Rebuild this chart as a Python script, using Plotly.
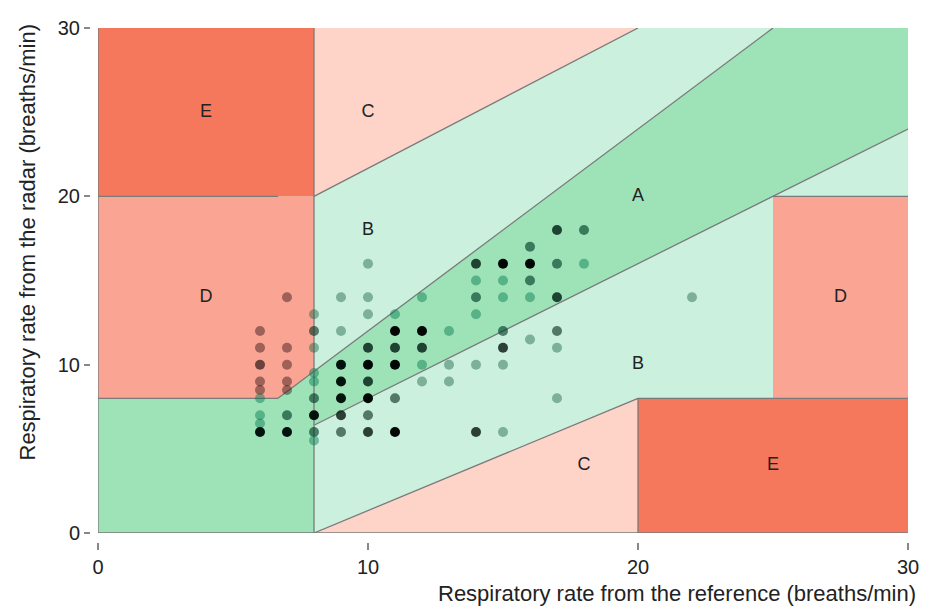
import plotly.graph_objects as go

# ---------------- data ----------------
# respiratory rate from reference (x), from radar (y), and number of overlapping samples at that point
ref_rr = ([6] * 9 + [7] * 7 + [8] * 9 + [9] * 7 + [10] * 9 + [11] * 6 + [12] * 5 + [13] * 3
          + [14] * 6 + [15] * 7 + [16] * 5 + [17] * 6 + [18] * 2 + [22])
radar_rr = ([12, 11, 10, 9, 8.5, 8, 7, 6.5, 6]
            + [14, 11, 10, 9, 8.5, 7, 6]
            + [13, 12, 11, 9.5, 9, 8, 7, 6, 5.5]
            + [14, 12, 10, 9, 8, 7, 6]
            + [16, 14, 13, 11, 10, 9, 8, 7, 6]
            + [13, 12, 11, 10, 8, 6]
            + [14, 12, 11, 10, 9]
            + [12, 10, 9]
            + [16, 15, 14, 13, 10, 6]
            + [16, 15, 14, 12, 11, 10, 6]
            + [17, 16, 15, 14, 11.5]
            + [18, 16, 14, 12, 11, 8]
            + [18, 16]
            + [14])
n_samples = ([1, 1, 2, 1, 1, 1, 1, 1, 4]
             + [1, 1, 1, 1, 1, 2, 4]
             + [1, 2, 1, 1, 1, 2, 4, 2, 1]
             + [1, 1, 4, 4, 4, 3, 2]
             + [1, 1, 1, 3, 5, 3, 5, 2, 3]
             + [1, 5, 3, 5, 2, 5]
             + [1, 5, 3, 1, 1]
             + [1, 1, 1]
             + [3, 1, 2, 1, 1, 3]
             + [5, 1, 1, 2, 3, 1, 1]
             + [2, 5, 2, 1, 1]
             + [3, 2, 3, 2, 1, 1]
             + [2, 1]
             + [1])

# error-grid zone polygons (x list, y list)
zone_B = ([0, 30, 30, 0], [0, 0, 30, 30])
zone_A = ([0, 8, 8, 30, 30, 25, 6.667, 0], [0, 0, 6.4, 24, 30, 30, 8, 8])
zone_C_top = ([8, 20, 8], [20, 30, 30])
zone_C_bottom = ([8, 20, 20], [0, 0, 8])
zone_D_left = ([0, 6.667, 8, 8, 0], [8, 8, 9.6, 20, 20])
zone_D_right = ([25, 30, 30, 25], [8, 8, 20, 20])
zone_E_left = ([0, 8, 8, 0], [20, 20, 30, 30])
zone_E_right = ([20, 30, 30, 20], [0, 0, 8, 8])

# boundary segments ((x0, x1), (y0, y1))
boundaries = [
    ((0, 0), (0, 30)), ((0, 30), (0, 0)), ((0, 6.667), (8, 8)), ((6.667, 25), (8, 30)),
    ((8, 30), (6.4, 24)), ((8, 8), (0, 30)), ((8, 20), (20, 30)), ((8, 20), (0, 8)),
    ((20, 20), (0, 8)), ((20, 30), (8, 8)), ((25, 30), (20, 20)), ((0, 6.667), (20, 20)),
]

label_text = ["E", "C", "B", "D", "A", "D", "B", "C", "E"]
label_x = [4, 10, 10, 4, 20, 27.5, 20, 18, 25]
label_y = [25, 25, 18, 14, 20, 14, 10, 4, 4]

x_ticks = [0, 10, 20, 30]
y_ticks = [0, 10, 20, 30]

# ---------------- styles ----------------
COL = {"A": "#9ee3b8", "B": "#ccf0de", "C": "#fed3c8", "D": "#faa594", "E": "#f6785c"}
PT_BASE = {"A": (0, 118, 77), "B": (27, 98, 67), "D": (45, 16, 15)}
LINE_COL = "#7a7a7a"
FONT = "Liberation Sans, Arial, sans-serif"


def zone_of(x, y):
    if (x <= 8 and y <= max(8, 1.2 * x)) or (0.8 * x <= y <= 1.2 * x):
        return "A"
    if x < 8:
        return "D"
    return "B"


def point_color(x, y, n):
    r, g, b = PT_BASE[zone_of(x, y)]
    k = 0.5 ** (n - 1)
    a = min(1.0, 0.45 + 0.18 * (n - 1))
    return f"rgba({r*k:.0f},{g*k:.0f},{b*k:.0f},{a:.2f})"


fig = go.Figure()

for poly, key in [(zone_B, "B"), (zone_A, "A"), (zone_C_top, "C"), (zone_C_bottom, "C"),
                  (zone_D_left, "D"), (zone_D_right, "D"), (zone_E_left, "E"), (zone_E_right, "E")]:
    fig.add_trace(go.Scatter(x=poly[0], y=poly[1], fill="toself", fillcolor=COL[key],
                             mode="none", hoverinfo="skip", showlegend=False))

for (xs, ys) in boundaries:
    fig.add_trace(go.Scatter(x=list(xs), y=list(ys), mode="lines",
                             line=dict(color=LINE_COL, width=1.3),
                             hoverinfo="skip", showlegend=False))

fig.add_trace(go.Scatter(
    x=ref_rr, y=radar_rr, mode="markers",
    marker=dict(size=10, color=[point_color(x, y, n) for x, y, n in zip(ref_rr, radar_rr, n_samples)],
                line=dict(width=0)),
    showlegend=False))

fig.add_trace(go.Scatter(x=label_x, y=label_y, text=label_text, mode="text",
                         textfont=dict(size=18, color="#222", family=FONT),
                         hoverinfo="skip", showlegend=False))

L, R, T, B = 90, 25, 28, 65
W, H = 933, 607
pw, ph = W - L - R, H - T - B
fig.update_layout(
    width=W, height=H, margin=dict(l=L, r=R, t=T, b=B),
    paper_bgcolor="white", plot_bgcolor="white",
    font=dict(family=FONT, size=20, color="#222"),
    xaxis=dict(range=[0, 30], domain=[8 / pw, 1], anchor="free", position=0,
               tickvals=x_ticks, ticks="outside", ticklen=7, tickwidth=2, tickcolor="#888",
               tickfont=dict(size=20),
               showgrid=False, zeroline=False, showline=False, fixedrange=True),
    yaxis=dict(range=[0, 30], domain=[9 / ph, 1], anchor="free", position=0,
               tickvals=y_ticks, ticks="outside", ticklen=6, tickwidth=2, tickcolor="#888",
               tickfont=dict(size=20),
               showgrid=False, zeroline=False, showline=False, fixedrange=True),
    annotations=[
        dict(text="Respiratory rate from the reference (breaths/min)", xref="paper", yref="paper",
             x=(918 - L) / pw, y=-(593 - (H - B)) / ph, xanchor="right", yanchor="middle",
             showarrow=False, font=dict(size=22, color="#222")),
        dict(text="Respiratory rate from the radar (breaths/min)", xref="paper", yref="paper",
             x=(27 - L) / pw, y=((H - B) - 22) / ph, xanchor="center", yanchor="top",
             textangle=-90, showarrow=False, font=dict(size=22, color="#222")),
    ],
)

fig.write_html("out.html")
